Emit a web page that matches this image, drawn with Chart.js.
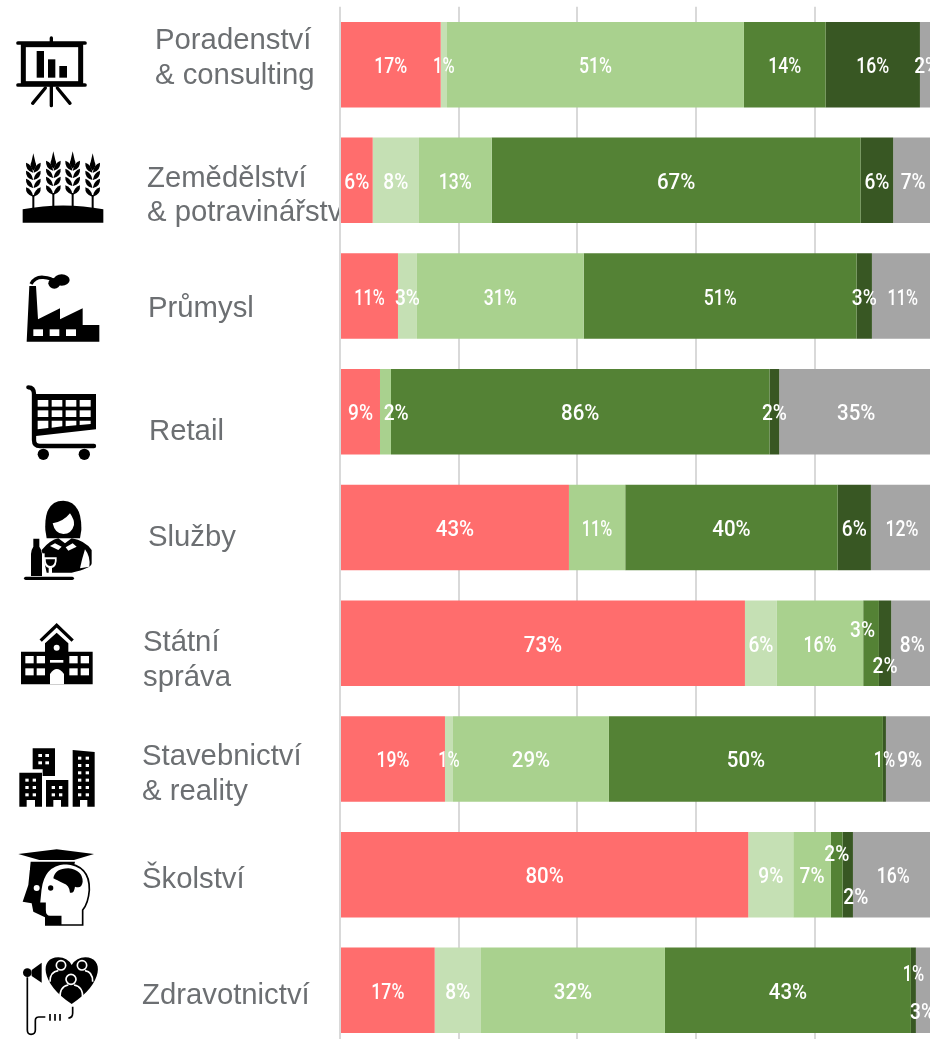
<!DOCTYPE html>
<html><head><meta charset="utf-8">
<style>
html,body{margin:0;padding:0;background:#fff;width:930px;height:1039px;overflow:hidden}
#wrap{position:relative;width:930px;height:1039px;overflow:hidden}
#icons{position:absolute;left:0;top:0;width:930px;height:1039px}
canvas{position:absolute;left:0;top:0}
</style>
<script src="https://cdn.jsdelivr.net/npm/chart.js@4"></script>
</head><body>
<div id="wrap">
<svg id="icons" viewBox="0 0 930 1039" xmlns="http://www.w3.org/2000/svg">
<defs>
<g id="wheat">
  <rect x="-3" y="125" width="6" height="40"/>
  <path d="M0 0 L6 26 Q13 38 0 52 Q-13 38 -6 26Z"/>
  <path d="M-1 58 Q-24 52 -22 28 Q-4 34 -1 56Z"/>
  <path d="M1 58 Q24 52 22 28 Q4 34 1 56Z"/>
  <path d="M-1 80 Q-24 74 -22 52 Q-4 58 -1 78Z"/>
  <path d="M1 80 Q24 74 22 52 Q4 58 1 78Z"/>
  <path d="M-1 104 Q-24 98 -22 76 Q-4 82 -1 102Z"/>
  <path d="M1 104 Q24 98 22 76 Q4 82 1 102Z"/>
  <path d="M-1 130 Q-24 124 -22 102 Q-4 108 -1 128Z"/>
  <path d="M1 130 Q24 124 22 102 Q4 108 1 128Z"/>
</g>
</defs>
<g transform="scale(0.33333)" fill="#000">
  <!-- presentation board -->
  <path d="M154 114V130" stroke="#000" stroke-width="10" stroke-linecap="round"/>
  <path d="M54 129H255M54 255H255" stroke="#000" stroke-width="11" stroke-linecap="round"/>
  <rect x="70" y="134" width="172" height="117" fill="none" stroke="#000" stroke-width="15"/>
  <rect x="110" y="153" width="22" height="80"/><rect x="144" y="178" width="22" height="55"/><rect x="178" y="198" width="23" height="35"/>
  <path d="M154 258V317M136 264L98 310M172 264L210 310" stroke="#000" stroke-width="10" stroke-linecap="round" fill="none"/>
  <!-- wheat -->
  <use href="#wheat" x="100" y="460"/><use href="#wheat" x="160" y="454"/><use href="#wheat" x="218" y="454"/><use href="#wheat" x="278" y="460"/>
  <path d="M68 668V628Q190 605 310 628V668Z"/>
  <!-- factory -->
  <path d="M80 1025L88 858H108L114 958L180 925V958L248 925V975H298V1025Z"/>
  <rect x="100" y="988" width="29" height="20" fill="#fff"/><rect x="149" y="988" width="29" height="20" fill="#fff"/><rect x="198" y="988" width="30" height="20" fill="#fff"/>
  <path d="M93 852Q105 830 130 832T165 845" stroke="#000" stroke-width="10" fill="none"/>
  <ellipse cx="185" cy="840" rx="24" ry="17"/><ellipse cx="163" cy="850" rx="18" ry="16"/>
</g>
<g transform="translate(0,350) scale(0.33333)" fill="#000">
  <!-- cart -->
  <path d="M85 112Q102 112 102 132V270Q102 288 120 288H282" fill="none" stroke="#000" stroke-width="13" stroke-linecap="round"/>
  <path d="M102 132H288V238L108 258Z"/>
  <g fill="#fff">
    <rect x="113" y="150" width="32" height="20"/><rect x="155" y="150" width="32" height="20"/><rect x="197" y="150" width="32" height="20"/><rect x="239" y="150" width="33" height="20"/>
    <rect x="113" y="181" width="32" height="20"/><rect x="155" y="181" width="32" height="20"/><rect x="197" y="181" width="32" height="20"/><rect x="239" y="181" width="33" height="20"/>
    <path d="M113 212H145V234L113 238ZM155 212H187V229L155 233ZM197 212H229V226L197 229ZM239 212H272V222L239 225Z"/>
  </g>
  <circle cx="130" cy="313" r="17"/><circle cx="253" cy="313" r="17"/>
  <!-- person -->
  <path d="M136 540Q132 452 190 452Q246 455 244 540L240 565H140Z"/>
  <path d="M158 520Q190 515 210 490Q224 510 222 525Q215 552 190 552Q165 552 158 520Z" fill="#fff"/>
  <path d="M125 600Q150 570 175 565L195 580L215 565Q255 572 275 600V640Q275 655 215 668H140Z"/>
  <path d="M255 598Q245 630 240 655L268 650Q272 620 255 598Z" fill="#fff"/>
  <path d="M150 588L175 600L185 590L165 580ZM230 590L205 602L197 592L218 580Z" fill="#fff"/>
  <path d="M100 566H118V590Q126 600 126 612V678H93V612Q93 600 100 590Z"/>
  <path d="M126 610H134V678H126Z" fill="#fff"/>
  <path d="M132 622H170Q172 650 156 654V672H168V680H134V672H146V654Q130 650 132 622Z" fill="#fff"/>
  <path d="M137 628H165Q165 648 151 648Q137 648 137 628Z"/>
  <rect x="72" y="680" width="150" height="10" rx="5"/>
  <!-- school -->
  <path d="M122 872L170 826L218 872" fill="none" stroke="#000" stroke-width="10"/>
  <path d="M135 905V880L170 848L205 880V905H278V1003H63V905Z"/>
  <g fill="#fff">
    <circle cx="170" cy="893" r="9"/><rect x="150" y="930" width="40" height="8"/>
    <rect x="76" y="918" width="25" height="22"/><rect x="110" y="918" width="25" height="22"/><rect x="76" y="955" width="25" height="21"/><rect x="110" y="955" width="25" height="21"/>
    <rect x="208" y="918" width="25" height="22"/><rect x="242" y="918" width="25" height="22"/><rect x="208" y="955" width="25" height="21"/><rect x="242" y="955" width="25" height="21"/>
    <path d="M150 1003V972Q170 942 192 972V1003Z"/>
  </g>
</g>
<g transform="translate(0,690) scale(0.33333)" fill="#000">
  <!-- buildings -->
  <path d="M58 248H126V350H105V330H80V350H58Z"/>
  <path d="M98 175H165V258H128V238H98Z"/>
  <path d="M138 270H205V350H183V330H160V350H138Z"/>
  <path d="M218 180L284 186V350H262V330H240V350H218Z"/>
  <g fill="#fff">
    <rect x="115" y="192" width="11" height="9"/><rect x="136" y="192" width="11" height="9"/><rect x="115" y="214" width="11" height="9"/><rect x="136" y="214" width="11" height="9"/>
    <rect x="76" y="266" width="10" height="9"/><rect x="98" y="266" width="10" height="9"/><rect x="76" y="288" width="10" height="9"/><rect x="98" y="288" width="10" height="9"/><rect x="76" y="310" width="10" height="9"/><rect x="98" y="310" width="10" height="9"/>
    <rect x="155" y="288" width="10" height="9"/><rect x="177" y="288" width="10" height="9"/><rect x="155" y="310" width="10" height="9"/><rect x="177" y="310" width="10" height="9"/>
    <rect x="234" y="200" width="10" height="9"/><rect x="257" y="200" width="10" height="9"/><rect x="234" y="222" width="10" height="9"/><rect x="257" y="222" width="10" height="9"/><rect x="234" y="244" width="10" height="9"/><rect x="257" y="244" width="10" height="9"/><rect x="234" y="266" width="10" height="9"/><rect x="257" y="266" width="10" height="9"/><rect x="234" y="288" width="10" height="9"/><rect x="257" y="288" width="10" height="9"/><rect x="234" y="310" width="10" height="9"/><rect x="257" y="310" width="10" height="9"/>
  </g>
  <!-- scholar -->
  <path d="M55 492L170 478L282 492L222 510H118Z"/>
  <path d="M92 515H225L180 707H135V682L100 665L95 640L68 635L85 585Z"/>
  <circle cx="110" cy="594" r="9" fill="#fff"/>
  <rect x="86" y="518" width="4" height="22" fill="#fff"/>
  <path d="M122 600Q130 525 195 520Q270 525 268 600Q265 640 248 660V705H182V680H150Q135 680 135 660V640H118Z" fill="#fff" stroke="#000" stroke-width="5"/>
  <path d="M160 565Q165 535 205 535Q248 540 248 575Q245 598 225 590Q222 612 210 608Q208 585 190 580Q170 570 160 565Z"/>
  <circle cx="152" cy="594" r="8"/>
  <!-- health -->
  <path d="M215 942C120 880 118 802 175 802Q202 802 215 825Q230 802 256 802C312 802 312 880 215 942Z"/>
  <g fill="none" stroke="#fff" stroke-width="5">
    <circle cx="183" cy="826" r="14"/><circle cx="246" cy="826" r="14"/><circle cx="213" cy="868" r="15"/>
    <path d="M150 875Q150 845 175 842M278 875Q278 845 255 842M180 925Q178 890 205 885M248 925Q250 890 222 885"/>
  </g>
  <circle cx="82" cy="848" r="13"/>
  <path d="M95 840L125 818V878L95 858Z"/>
  <path d="M82 862V1020Q82 1033 93 1033Q106 1033 106 1020V992Q106 981 116 981H136M205 984Q218 984 218 970V950" fill="none" stroke="#000" stroke-width="5"/>
  <path d="M150 972V992M165 972V992M180 972V992" stroke="#000" stroke-width="5"/>
</g>
</svg>
<canvas id="c" width="940" height="1060"></canvas>
</div>
<script>
// Categories and axis ticks
const categories = ["Poradenství & consulting","Zemědělství & potravinářství","Průmysl","Retail","Služby","Státní správa","Stavebnictví & reality","Školství","Zdravotnictví"];
const tickValues = [0,20,40,60,80,100];

// Drawn segment lengths (% of the axis)
const nesouhlas      = [16.97, 5.51, 9.77, 6.74, 38.58, 68.24, 17.69, 68.8, 15.96];
const spiseNesouhlas = [1.06, 7.8, 3.2, null, null, 5.39, 1.35, 7.58, 7.8];
const neutral        = [50.04, 12.25, 28.09, 1.85, 9.49, 14.54, 26.28, 6.35, 31.0];
const spiseSouhlas   = [13.77, 62.17, 46.0, 63.8, 35.79, 2.65, 46.17, 1.97, 41.45];
const souhlas        = [15.89, 5.49, 2.58, 1.62, 5.61, 2.07, 0.51, 1.74, 0.84];
const nevi           = [2.26, 6.76, 10.35, 25.96, 10.51, 7.09, 7.99, 13.55, 2.93];

// Printed percentages on the segments
const nesouhlasText      = [17, 6, 11, 9, 43, 73, 19, 80, 17];
const spiseNesouhlasText = [1, 8, 3, null, null, 6, 1, 9, 8];
const neutralText        = [51, 13, 31, 2, 11, 16, 29, 7, 32];
const spiseSouhlasText   = [14, 67, 51, 86, 40, 3, 50, 2, 43];
const souhlasText        = [16, 6, 3, 2, 6, 2, 1, 2, 1];
const neviText           = [2, 7, 11, 35, 12, 8, 9, 16, 3];

// Style: left-hand row captions [text, x, baseline]
const captions = [
  ["Poradenství",155,49],["& consulting",155,84],
  ["Zemědělství",147,187],["& potravinářství",147,221],
  ["Průmysl",148,317],["Retail",149,440],["Služby",148,546],
  ["Státní",143,651],["správa",143,686],
  ["Stavebnictví",142,765],["& reality",142,800],
  ["Školství",142,888],["Zdravotnictví",142,1004]
];
// Style: label nudges "dataset:row" -> [dx,dy]
const nudges = {"3:5":[-8.5,-15],"4:5":[0,21],"3:7":[0,-22],"4:7":[8,20.5],"4:8":[0,-17.5],"5:8":[-2,20],"2:3":[10.7,0]};

const colors = ["#FF6D6D","#C5E0B4","#A9D18E","#548235","#385723","#A5A5A5"];
const seriesValues = [nesouhlas,spiseNesouhlas,neutral,spiseSouhlas,souhlas,nevi];
const seriesTexts = [nesouhlasText,spiseNesouhlasText,neutralText,spiseSouhlasText,souhlasText,neviText];
const seriesNames = ["Nesouhlas","Spíše nesouhlas","Neutrální","Spíše souhlas","Souhlas","Neví"];

// The reference face is narrower where a "1" occurs, so the squeeze depends on the digits.
function squeeze(v){
  const s = String(v);
  if(s==="11") return 0.74;
  if(s==="1") return 0.75;
  if(s.includes("1")) return 0.8;
  return s.length===1 ? 0.87 : 0.93;
}
const captionPlugin = {
  id:"captions",
  beforeDraw(chart){
    const ctx = chart.ctx;
    ctx.save();
    ctx.beginPath(); ctx.rect(0,0,340,1060); ctx.clip();
    ctx.font = '29.3px "Liberation Sans"';
    ctx.fillStyle = "#6C6F72";
    ctx.textAlign = "left"; ctx.textBaseline = "alphabetic";
    captions.forEach(c=>ctx.fillText(c[0],c[1],c[2]));
    ctx.restore();
  }
};
const valuePlugin = {
  id:"values",
  afterDatasetsDraw(chart){
    const ctx = chart.ctx;
    ctx.save();
    ctx.font = '500 22px Roboto';
    ctx.fillStyle = "#fff";
    ctx.textAlign = "center"; ctx.textBaseline = "middle";
    seriesTexts.forEach((arr,di)=>{
      const meta = chart.getDatasetMeta(di);
      arr.forEach((v,i)=>{
        if(v===null) return;
        const el = meta.data[i];
        const n = nudges[di+":"+i]||[0,0];
        ctx.save();
        ctx.translate((el.x+el.base)/2+n[0], el.y+3+n[1]);
        ctx.scale(squeeze(v),1);
        ctx.fillText(v+"%",0,0);
        ctx.restore();
      });
    });
    ctx.restore();
  }
};
new Chart(document.getElementById("c"),{
  type:"bar",
  data:{labels:categories,datasets:seriesValues.map((d,i)=>({label:seriesNames[i],data:d,backgroundColor:colors[i],borderWidth:0,categoryPercentage:1,barPercentage:0.739}))},
  options:{
    indexAxis:"y",responsive:false,animation:false,
    layout:{padding:{left:340,right:6.6,top:6.8,bottom:11.8}},
    plugins:{legend:{display:false},tooltip:{enabled:false}},
    scales:{
      x:{stacked:true,min:0,max:100,afterBuildTicks(a){a.ticks=tickValues.map(v=>({value:v}));},
         ticks:{display:false},grid:{color:"#D9D9D9",lineWidth:2,drawTicks:false},border:{display:false}},
      y:{display:false,stacked:true}
    }
  },
  plugins:[captionPlugin,valuePlugin]
});
</script>
</body></html>
